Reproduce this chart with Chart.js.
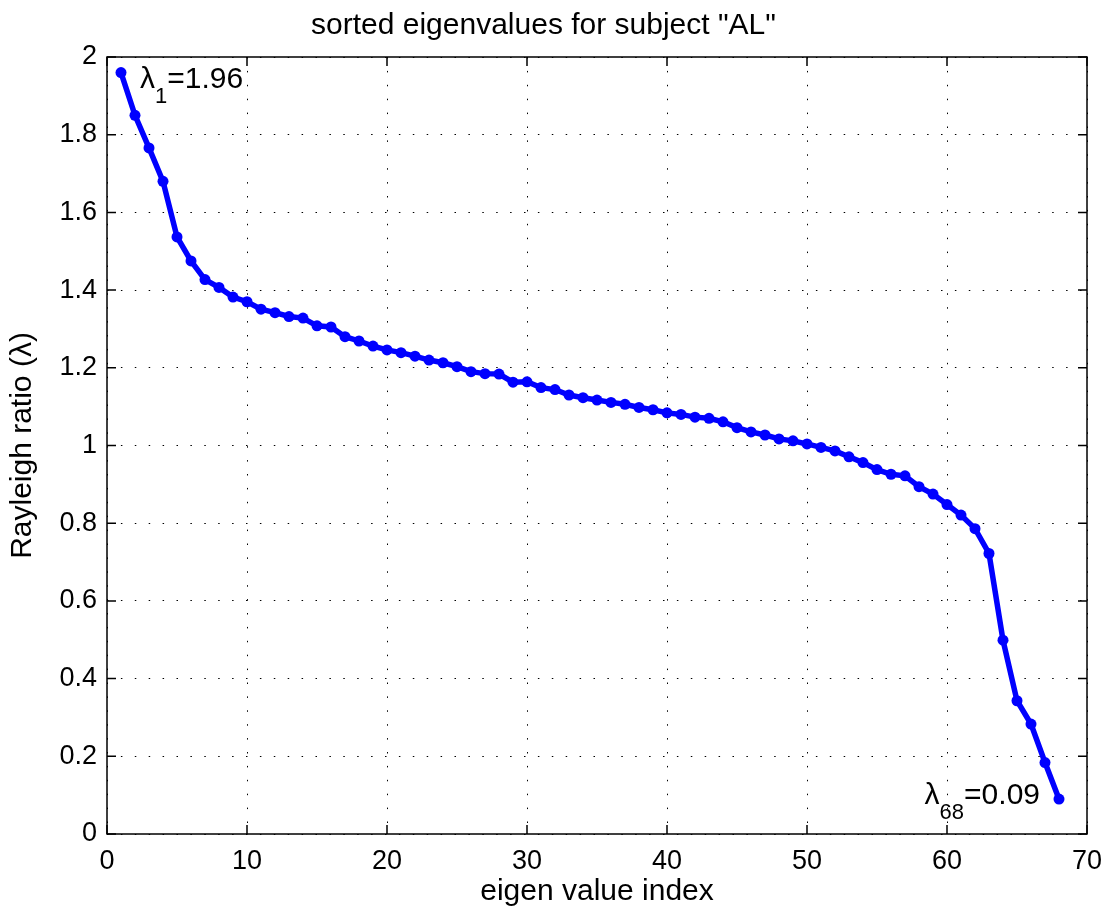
<!DOCTYPE html>
<html>
<head>
<meta charset="utf-8">
<script src="https://cdn.jsdelivr.net/npm/chart.js@4/dist/chart.umd.min.js"></script>
<style>
  html, body { margin: 0; padding: 0; background: #fff; }
</style>
</head>
<body>
<canvas id="chart" width="1114" height="912"></canvas>
<script>
'use strict';

// sorted eigenvalues, index 1..68
var eigenValues = [
  1.96, 1.850, 1.766, 1.680, 1.537, 1.475, 1.427, 1.407, 1.382, 1.370,
  1.351, 1.342, 1.332, 1.328, 1.308, 1.305, 1.280, 1.269, 1.256, 1.246,
  1.239, 1.230, 1.220, 1.213, 1.203, 1.190, 1.185, 1.184, 1.163, 1.164,
  1.149, 1.144, 1.130, 1.123, 1.117, 1.111, 1.106, 1.098, 1.092, 1.084,
  1.080, 1.073, 1.070, 1.061, 1.046, 1.035, 1.027, 1.017, 1.012, 1.004,
  0.995, 0.986, 0.971, 0.956, 0.938, 0.926, 0.922, 0.894, 0.875, 0.848,
  0.821, 0.786, 0.722, 0.499, 0.343, 0.283, 0.184, 0.09
];
var xTickValues = [0, 10, 20, 30, 40, 50, 60, 70];
var yTickValues = [0, 0.2, 0.4, 0.6, 0.8, 1, 1.2, 1.4, 1.6, 1.8, 2];
var firstLabel = { sub: '1', value: '=1.96' };
var lastLabel = { sub: '68', value: '=0.09' };

var FONT = '"Liberation Sans", Arial, Helvetica, sans-serif';

var points = eigenValues.map((v, i) => ({ x: i + 1, y: v }));

// MATLAB-like box with inward ticks and the two lambda labels
var boxPlugin = {
  id: 'box',
  afterDraw(chart) {
    var ctx = chart.ctx;
    var a = chart.chartArea;
    var xs = chart.scales.x, ys = chart.scales.y;
    var tick = 9;
    ctx.save();
    ctx.strokeStyle = '#000';
    ctx.lineWidth = 1.5;
    ctx.beginPath();
    xTickValues.forEach((v) => {
      var px = xs.getPixelForValue(v);
      ctx.moveTo(px, a.bottom); ctx.lineTo(px, a.bottom - tick);
      ctx.moveTo(px, a.top); ctx.lineTo(px, a.top + tick);
    });
    yTickValues.forEach((v) => {
      var py = ys.getPixelForValue(v);
      ctx.moveTo(a.left, py); ctx.lineTo(a.left + tick, py);
      ctx.moveTo(a.right, py); ctx.lineTo(a.right - tick, py);
    });
    ctx.stroke();
    ctx.strokeRect(a.left, a.top, a.right - a.left, a.bottom - a.top);

    // labels
    ctx.fillStyle = '#000';
    ctx.textBaseline = 'alphabetic';
    var big = '30px ' + FONT, small = '22px ' + FONT;
    function label(lbl, x, y, alignRight) {
      ctx.font = big;
      var w1 = ctx.measureText('\u03bb').width;
      var w3 = ctx.measureText(lbl.value).width;
      ctx.font = small;
      var w2 = ctx.measureText(lbl.sub).width;
      var sx = alignRight ? x - (w1 + w2 + w3) : x;
      ctx.font = big;
      ctx.textAlign = 'left';
      ctx.fillText('\u03bb', sx, y);
      ctx.font = small;
      ctx.fillText(lbl.sub, sx + w1, y + 15);
      ctx.font = big;
      ctx.fillText(lbl.value, sx + w1 + w2, y);
    }
    var n = eigenValues.length;
    label(firstLabel, xs.getPixelForValue(1) + 19, ys.getPixelForValue(eigenValues[0]) + 15, false);
    label(lastLabel, xs.getPixelForValue(n) - 19, ys.getPixelForValue(eigenValues[n - 1]) + 5, true);
    ctx.restore();
  }
};

var ctx = document.getElementById('chart').getContext('2d');
var chart = new Chart(ctx, {
  type: 'line',
  data: {
    datasets: [{
      data: points,
      borderColor: '#0000ff',
      backgroundColor: '#0000ff',
      borderWidth: 5.5,
      pointRadius: 5.5,
      pointBorderWidth: 0,
      pointBackgroundColor: '#0000ff',
      tension: 0,
      fill: false
    }]
  },
  options: {
    responsive: false,
    animation: false,
    devicePixelRatio: 1,
    layout: { padding: { left: 0, right: 27, top: 0, bottom: 0 } },
    plugins: {
      legend: { display: false },
      tooltip: { enabled: false },
      title: {
        display: true,
        text: 'sorted eigenvalues for subject "AL"',
        color: '#000',
        font: { family: FONT, size: 30, weight: 'normal', lineHeight: 1.2 },
        padding: { top: 8, bottom: 13 }
      }
    },
    scales: {
      x: {
        type: 'linear',
        min: 0,
        max: 70,
        afterBuildTicks: (s) => { s.ticks = xTickValues.map((v) => ({ value: v })); },
        afterFit: (s) => { s.height = 78; },
        grid: { color: '#000', lineWidth: 1, drawTicks: false },
        border: { display: false, dash: [1.5, 12.4] },
        ticks: {
          color: '#000',
          padding: 11,
          maxRotation: 0,
          callback: (v) => String(v),
          font: { family: FONT, size: 27 }
        },
        title: {
          display: true,
          text: 'eigen value index',
          color: '#000',
          font: { family: FONT, size: 30 },
          padding: { top: 0, bottom: 2 }
        }
      },
      y: {
        type: 'linear',
        min: 0,
        max: 2,
        afterBuildTicks: (s) => { s.ticks = yTickValues.map((v) => ({ value: v })); },
        afterFit: (s) => { s.width = 107; },
        grid: { color: '#000', lineWidth: 1, drawTicks: false },
        border: { display: false, dash: [1.5, 12.4] },
        ticks: {
          color: '#000',
          padding: 10,
          callback: (v) => String(v),
          font: { family: FONT, size: 27 }
        },
        title: {
          display: true,
          text: 'Rayleigh ratio (\u03bb)',
          color: '#000',
          font: { family: FONT, size: 30 },
          padding: { top: 5, bottom: 0 }
        }
      }
    }
  },
  plugins: [boxPlugin]
});
</script>
</body>
</html>
